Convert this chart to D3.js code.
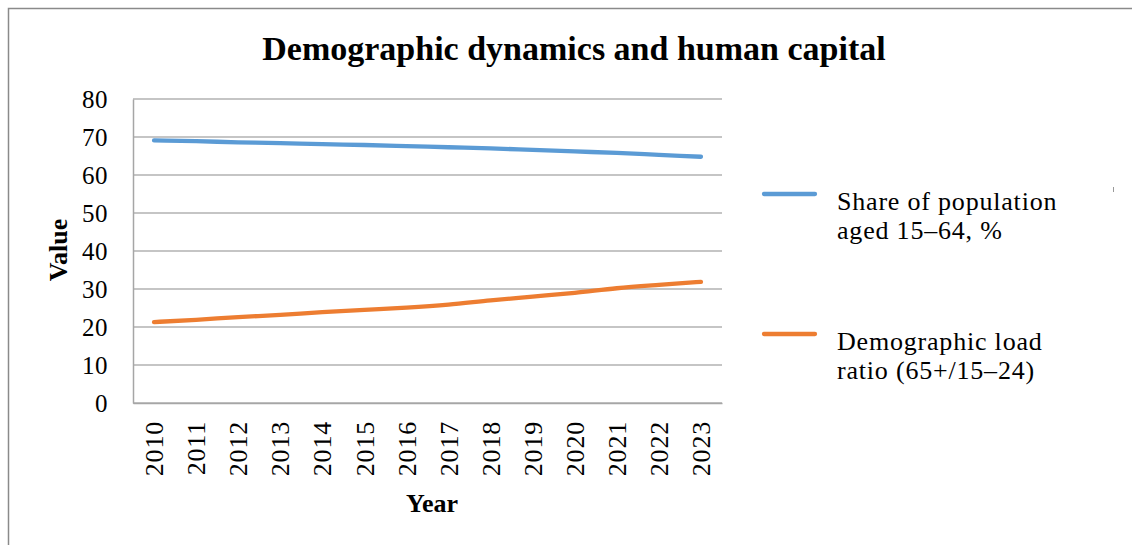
<!DOCTYPE html>
<meta charset="utf-8">
<script src="https://d3js.org/d3.v7.min.js"></script>
<style>
  body { margin: 0; background: #fff; }
  text { font-family: "Liberation Serif", "DejaVu Serif", serif; fill: #000; }
</style>
<div id="chart"></div>
<script>
  // data
  const years = ["2010","2011","2012","2013","2014","2015","2016","2017","2018","2019","2020","2021","2022","2023"];
  const shareWorking = [69.1, 68.9, 68.6, 68.4, 68.1, 67.9, 67.6, 67.3, 67.0, 66.6, 66.2, 65.8, 65.3, 64.8];
  const loadRatio = [21.3, 21.9, 22.6, 23.2, 23.9, 24.5, 25.1, 25.9, 27.0, 28.0, 29.0, 30.2, 31.1, 31.9];
  const seriesNames = ["Share of population|aged 15\u201364, %", "Demographic load|ratio (65+/15\u201324)"];
  const seriesColors = ["#5B9BD5", "#ED7D31"];
  const yTicks = [0, 10, 20, 30, 40, 50, 60, 70, 80];

  const W = 1132, H = 545;
  const plot = {left: 133, right: 722, top: 99, bottom: 403};

  const svg = d3.select("#chart").append("svg")
      .attr("width", W).attr("height", H);

  // outer frame (top + left only visible)
  svg.append("path")
      .attr("d", `M8.5,${H} L8.5,8.5 L${W},8.5`)
      .attr("fill", "none").attr("stroke", "#8a8a8a").attr("stroke-width", 1.5);

  const x = d3.scaleBand().domain(years).range([plot.left, plot.right]).padding(0);
  const y = d3.scaleLinear().domain([0, 80]).range([plot.bottom, plot.top]);

  // gridlines
  svg.append("g").selectAll("line").data(yTicks).join("line")
      .attr("x1", plot.left).attr("x2", plot.right)
      .attr("y1", d => y(d)).attr("y2", d => y(d))
      .attr("stroke", "#8c8c8c").attr("stroke-width", 1.2);

  // y axis
  const yAxis = svg.append("g")
      .attr("transform", `translate(${plot.left},0)`)
      .call(d3.axisLeft(y).tickValues(yTicks).tickSize(0).tickPadding(25));
  yAxis.select(".domain").attr("stroke", "#a6a6a6").attr("stroke-width", 1.5);
  yAxis.selectAll("text").style("font-size", "25px")
      .style("font-family", "Liberation Serif").style("letter-spacing", "0.5px")
      .attr("dy", "0.35em");

  // x axis
  const xAxis = svg.append("g")
      .attr("transform", `translate(0,${plot.bottom})`)
      .call(d3.axisBottom(x).tickSize(0).tickPadding(0));
  xAxis.select(".domain").attr("stroke", "#a6a6a6").attr("stroke-width", 1.5);
  xAxis.selectAll("text")
      .style("font-size", "26px").style("font-family", "Liberation Serif")
      .style("letter-spacing", "0.8px")
      .attr("text-anchor", "end")
      .attr("transform", "rotate(-90)")
      .attr("x", -18).attr("y", 0).attr("dy", "0.35em");

  // lines
  const line = d3.line()
      .x((d, i) => x(years[i]) + x.bandwidth() / 2)
      .y(d => y(d))
      .curve(d3.curveMonotoneX);

  [shareWorking, loadRatio].forEach((s, k) => {
    svg.append("path").datum(s)
        .attr("d", line)
        .attr("fill", "none")
        .attr("stroke", seriesColors[k])
        .attr("stroke-width", 4.3)
        .attr("stroke-linecap", "round");
  });

  // title
  svg.append("text")
      .attr("x", 574).attr("y", 60)
      .attr("text-anchor", "middle")
      .style("font-size", "34px").style("font-weight", "bold")
      .text("Demographic dynamics and human capital");

  // axis titles
  svg.append("text")
      .attr("x", 432).attr("y", 512)
      .attr("text-anchor", "middle")
      .style("font-size", "26px").style("font-weight", "bold")
      .text("Year");
  svg.append("text")
      .attr("transform", "translate(67,250) rotate(-90)")
      .attr("text-anchor", "middle")
      .style("font-size", "26px").style("font-weight", "bold")
      .text("Value");

  // legend
  const legendY = [194, 334];
  const leg = svg.append("g").selectAll("g").data(seriesNames).join("g");
  leg.append("line")
      .attr("x1", 764).attr("x2", 815)
      .attr("y1", (d, i) => legendY[i]).attr("y2", (d, i) => legendY[i])
      .attr("stroke", (d, i) => seriesColors[i]).attr("stroke-width", 4.3)
      .attr("stroke-linecap", "round");
  leg.append("text")
      .attr("x", 837)
      .attr("y", (d, i) => legendY[i] + 16)
      .style("font-size", "26px").style("letter-spacing", "0.8px")
      .selectAll("tspan").data(d => d.split("|")).join("tspan")
      .attr("x", 837)
      .attr("dy", (d, j) => j === 0 ? 0 : 29)
      .text(d => d);

  // small stray mark at right edge
  svg.append("line")
      .attr("x1", 1113.5).attr("x2", 1113.5).attr("y1", 187).attr("y2", 192)
      .attr("stroke", "#999").attr("stroke-width", 1);
</script>
